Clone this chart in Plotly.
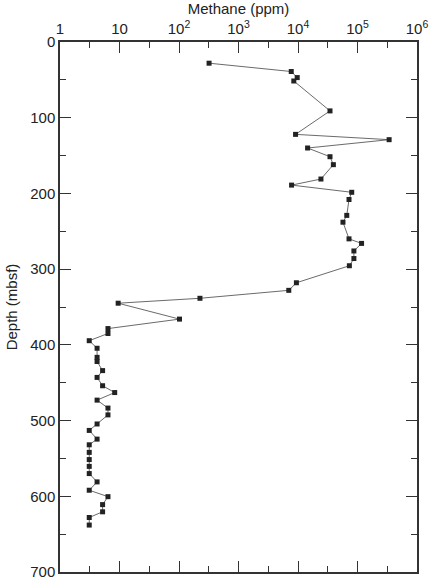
import plotly.graph_objects as go

depth = [28, 39, 47, 51.5, 91, 122, 129, 140, 151.5, 162, 181, 189, 198.5, 208, 229, 238,
         260, 266, 276, 286, 295.5, 318, 328, 338.5, 345, 366, 378.5, 385, 394.5, 404.5,
         416.5, 422, 434, 443, 454, 463, 473, 483.5, 492.5, 504.5, 513, 524.5, 532, 542,
         551.5, 560.5, 570, 581, 592, 600.5, 611, 620.5, 628, 638]
methane = [320, 7700, 9700, 8500, 34500, 9100, 340000, 14500, 34500, 39300, 24300, 7800,
           80000, 72000, 66000, 57000, 72000, 117000, 87000, 87000, 73000, 9400, 7000, 225,
           9.5, 102, 6.4, 6.4, 3.1, 4.2, 4.2, 4.2, 5.2, 4.2, 5.2, 8.3, 4.2, 6.4, 6.4, 4.2,
           3.1, 4.2, 3.1, 3.1, 3.1, 3.1, 3.1, 4.2, 3.1, 6.4, 5.2, 5.2, 3.1, 3.1]

x_tickvals = [1, 10, 100, 1000, 10000, 100000, 1000000]
x_ticktext = ["1", "10", "10<sup>2</sup>", "10<sup>3</sup>", "10<sup>4</sup>", "10<sup>5</sup>", "10<sup>6</sup>"]
x_minor = [3.1623, 31.623, 316.23, 3162.3, 31623, 316230]
y_tickvals = [0, 100, 200, 300, 400, 500, 600, 700]
y_minor = [50, 150, 250, 350, 450, 550, 650]

fig = go.Figure()
fig.add_trace(go.Scatter(
    x=methane, y=depth, mode="lines+markers",
    line=dict(color="#444444", width=0.8),
    marker=dict(symbol="square", size=5, color="#222222"),
    showlegend=False,
))

axis_color = "#333333"
fig.update_layout(
    width=435, height=585,
    margin=dict(l=60, r=18, t=42, b=13),
    paper_bgcolor="white", plot_bgcolor="white",
    font=dict(family="Liberation Sans, Arial, sans-serif", size=15, color="#222222"),
    xaxis=dict(
        type="log", range=[0, 6], side="top", automargin=False,
        tickvals=x_tickvals, ticktext=x_ticktext,
        ticks="inside", ticklen=11, tickwidth=1, tickcolor=axis_color,
        minor=dict(ticks="inside", ticklen=6, tickwidth=1, tickcolor=axis_color, tickvals=x_minor),
        showline=True, linecolor=axis_color, linewidth=1.5, mirror="ticks",
        showgrid=False, zeroline=False,
        title=dict(text="Methane (ppm)", standoff=2, font=dict(size=15)),
        tickfont=dict(size=15),
    ),
    yaxis=dict(
        range=[700, 0], automargin=False,
        tickvals=y_tickvals,
        ticks="inside", ticklen=11, tickwidth=1, tickcolor=axis_color,
        minor=dict(ticks="inside", ticklen=6, tickwidth=1, tickcolor=axis_color, tickvals=y_minor),
        showline=True, linecolor=axis_color, linewidth=1.5, mirror="ticks",
        showgrid=False, zeroline=False,
        title=dict(text="Depth (mbsf)", standoff=9, font=dict(size=15)),
        tickfont=dict(size=15),
    ),
)

fig.write_html("out.html", config={"displayModeBar": False},
               post_script="document.body.style.margin='0';")
